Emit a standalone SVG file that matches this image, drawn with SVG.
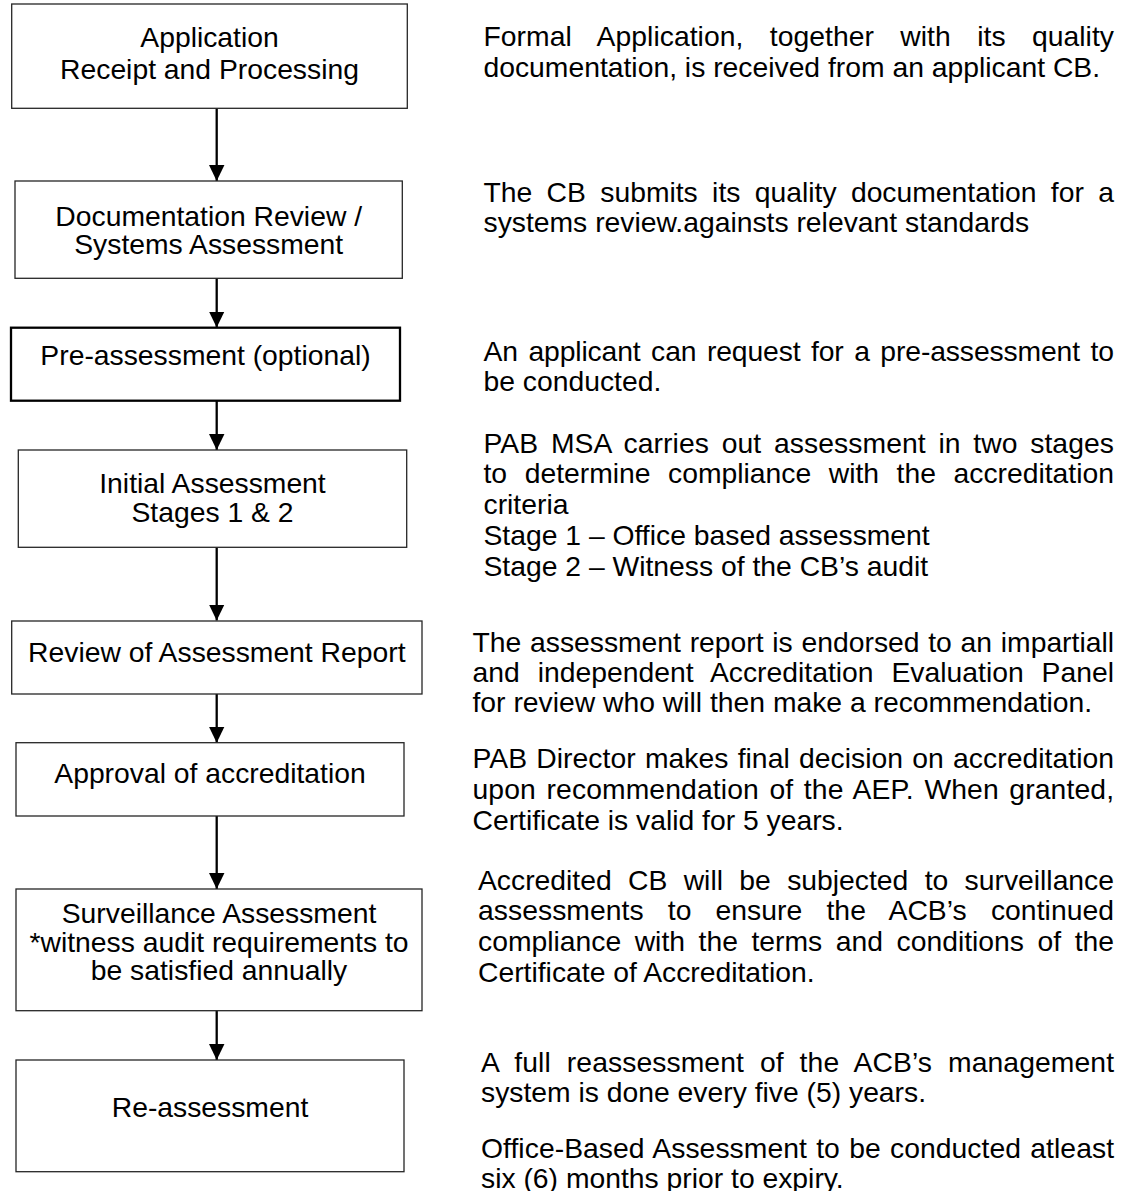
<svg xmlns="http://www.w3.org/2000/svg" width="1126" height="1191" viewBox="0 0 1126 1191">
<defs>
<style>
.box{fill:#fff;stroke:#262626;stroke-width:1.3}
.box.thick{stroke:#000;stroke-width:2.3}
.lbl{font-family:"Liberation Sans",Arial,sans-serif;font-size:28.3px;fill:#000;text-anchor:middle}
.desc{font-family:"Liberation Sans",Arial,sans-serif;font-size:28.3px;fill:#000}
.conn{stroke:#000;stroke-width:2.3;fill:none;marker-end:url(#ah)}
</style>
<marker id="ah" markerUnits="userSpaceOnUse" markerWidth="16" markerHeight="16" refX="16" refY="7.75" orient="auto" viewBox="0 0 16 15.5">
<path d="M0,0 L16,7.75 L0,15.5 Z" fill="#000"/>
</marker>
</defs>
<rect width="1126" height="1191" fill="#fff"/>

<g id="connectors">
<line class="conn" x1="216.7" y1="108.3" x2="216.7" y2="181"/>
<line class="conn" x1="216.7" y1="278.3" x2="216.7" y2="327.5"/>
<line class="conn" x1="216.7" y1="400.7" x2="216.7" y2="450"/>
<line class="conn" x1="216.7" y1="547.3" x2="216.7" y2="620.5"/>
<line class="conn" x1="216.7" y1="694" x2="216.7" y2="742.7"/>
<line class="conn" x1="216.7" y1="816" x2="216.7" y2="889"/>
<line class="conn" x1="216.7" y1="1010.7" x2="216.7" y2="1060"/>
</g>

<g id="node-application">
<rect class="box" x="11.7" y="4" width="395.6" height="104.3"/>
<text class="lbl" x="209.5" y="46.7">Application</text>
<text class="lbl" x="209.5" y="79">Receipt and Processing</text>
</g>
<g id="node-documentation">
<rect class="box" x="15" y="181" width="387.3" height="97.3"/>
<text class="lbl" x="208.7" y="225.7">Documentation Review /</text>
<text class="lbl" x="208.7" y="254">Systems Assessment</text>
</g>
<g id="node-preassessment">
<rect class="box thick" x="11" y="327.7" width="389" height="73"/>
<text class="lbl" x="205.5" y="365">Pre-assessment (optional)</text>
</g>
<g id="node-initial">
<rect class="box" x="18.3" y="450" width="388.4" height="97.3"/>
<text class="lbl" x="212.5" y="493.3">Initial Assessment</text>
<text class="lbl" x="212.5" y="521.7">Stages 1 &amp; 2</text>
</g>
<g id="node-review">
<rect class="box" x="11.7" y="621" width="410.3" height="73"/>
<text class="lbl" x="216.8" y="662.3">Review of Assessment Report</text>
</g>
<g id="node-approval">
<rect class="box" x="16" y="742.7" width="388" height="73.3"/>
<text class="lbl" x="210" y="783.3">Approval of accreditation</text>
</g>
<g id="node-surveillance">
<rect class="box" x="16" y="889" width="406" height="121.7"/>
<text class="lbl" x="219" y="922.7">Surveillance Assessment</text>
<text class="lbl" x="219" y="951.7">*witness audit requirements to</text>
<text class="lbl" x="219" y="980">be satisfied annually</text>
</g>
<g id="node-reassessment">
<rect class="box" x="16" y="1060" width="388" height="111.7"/>
<text class="lbl" x="210" y="1117.3">Re-assessment</text>
</g>

<g id="descriptions">
<text class="desc" x="483.5" y="46" word-spacing="18.5" textLength="630.5" lengthAdjust="spacing">Formal Application, together with its quality</text>
<text class="desc" x="483.5" y="76.5">documentation, is received from an applicant CB.</text>

<text class="desc" x="483.5" y="201.7" word-spacing="6.5" textLength="630.5" lengthAdjust="spacing">The CB submits its quality documentation for a</text>
<text class="desc" x="483.5" y="232">systems review.againsts relevant standards</text>

<text class="desc" x="483.5" y="360.7" word-spacing="2.8" textLength="630.5" lengthAdjust="spacing">An applicant can request for a pre-assessment to</text>
<text class="desc" x="483.5" y="391">be conducted.</text>

<text class="desc" x="483.5" y="452.7" word-spacing="4.7" textLength="630.5" lengthAdjust="spacing">PAB MSA carries out assessment in two stages</text>
<text class="desc" x="483.5" y="483" word-spacing="9.7" textLength="630.5" lengthAdjust="spacing">to determine compliance with the accreditation</text>
<text class="desc" x="483.5" y="513.5">criteria</text>
<text class="desc" x="483.5" y="545">Stage 1 – Office based assessment</text>
<text class="desc" x="483.5" y="576">Stage 2 – Witness of the CB’s audit</text>

<text class="desc" x="472.5" y="651.7" word-spacing="0.9" textLength="641.5" lengthAdjust="spacing">The assessment report is endorsed to an impartiall</text>
<text class="desc" x="472.5" y="682" word-spacing="10.1" textLength="641.5" lengthAdjust="spacing">and independent Accreditation Evaluation Panel</text>
<text class="desc" x="472.5" y="712.3">for review who will then make a recommendation.</text>

<text class="desc" x="472.5" y="768.3" word-spacing="1.3" textLength="641.5" lengthAdjust="spacing">PAB Director makes final decision on accreditation</text>
<text class="desc" x="472.5" y="799.3" word-spacing="2.6" textLength="641.5" lengthAdjust="spacing">upon recommendation of the AEP. When granted,</text>
<text class="desc" x="472.5" y="830">Certificate is valid for 5 years.</text>

<text class="desc" x="478" y="890" word-spacing="8.5" textLength="636" lengthAdjust="spacing">Accredited CB will be subjected to surveillance</text>
<text class="desc" x="478" y="920.3" word-spacing="16.2" textLength="636" lengthAdjust="spacing">assessments to ensure the ACB’s continued</text>
<text class="desc" x="478" y="951" word-spacing="5.7" textLength="636" lengthAdjust="spacing">compliance with the terms and conditions of the</text>
<text class="desc" x="478" y="981.7">Certificate of Accreditation.</text>

<text class="desc" x="481" y="1071.7" word-spacing="8" textLength="633" lengthAdjust="spacing">A full reassessment of the ACB’s management</text>
<text class="desc" x="481" y="1101.7">system is done every five (5) years.</text>

<text class="desc" x="481" y="1157.7" word-spacing="1.4" textLength="633" lengthAdjust="spacing">Office-Based Assessment to be conducted atleast</text>
<text class="desc" x="481" y="1188">six (6) months prior to expiry.</text>
</g>
</svg>
